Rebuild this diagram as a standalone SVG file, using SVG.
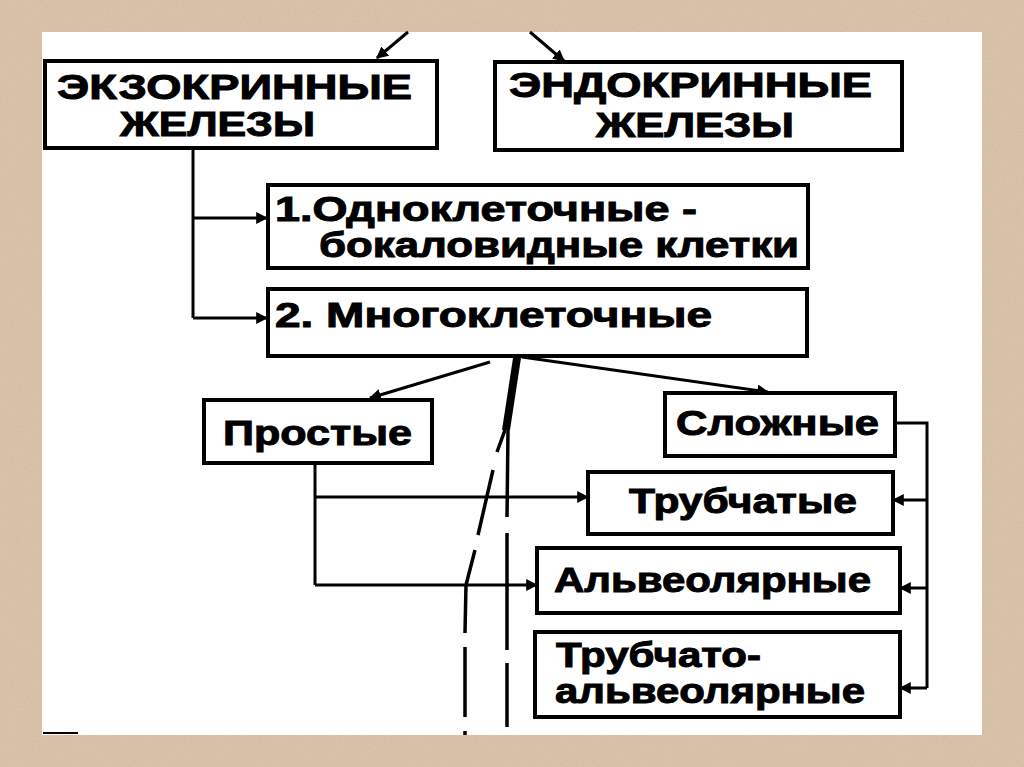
<svg xmlns="http://www.w3.org/2000/svg" width="1024" height="767" viewBox="0 0 1024 767">
<defs>
<style>
.box{fill:#fff;stroke:#000;stroke-width:4}
.t{font-family:"Liberation Sans",Arial,sans-serif;font-weight:bold;font-size:35px;fill:#000;stroke:#000;stroke-width:1}
.c{fill:none;stroke:#000;stroke-width:3}
.d{fill:none;stroke:#000;stroke-width:3.5}
</style>
<marker id="ah" viewBox="0 0 10 10" refX="9" refY="5" markerWidth="12" markerHeight="12" markerUnits="userSpaceOnUse" orient="auto">
<path d="M0,0 L10,5 L0,10 z" fill="#000"/>
</marker>
<filter id="noise" x="0" y="0" width="100%" height="100%">
<feTurbulence type="fractalNoise" baseFrequency="0.9" numOctaves="2" seed="3" result="n"/>
<feColorMatrix in="n" type="matrix" values="0 0 0 0 0.55  0 0 0 0 0.45  0 0 0 0 0.35  0 0 0 1.2 -0.3"/>
<feComposite in2="SourceGraphic" operator="in"/>
</filter>
</defs>
<rect x="0" y="0" width="1024" height="767" fill="#dcc4a9"/>
<rect x="0" y="0" width="1024" height="767" fill="#dcc4a9" filter="url(#noise)" opacity="0.7"/>
<rect x="42" y="32" width="940" height="703" fill="#fff"/>
<line x1="43" y1="733" x2="78" y2="733" stroke="#000" stroke-width="2"/>

<g id="connectors">
<path class="c" d="M408,32 L377,58" marker-end="url(#ah)"/>
<path class="c" d="M530,32 L564,61" marker-end="url(#ah)"/>
<path class="c" d="M193,148 L193,318"/>
<path class="c" d="M193,218 L267,218" marker-end="url(#ah)"/>
<path class="c" d="M193,318 L267,318" marker-end="url(#ah)"/>
<path class="c" d="M490,362 L370,398" marker-end="url(#ah)"/>
<path class="c" d="M522,357 L768,392" marker-end="url(#ah)"/>
<path class="c" d="M315,463 L315,585"/>
<path class="c" d="M315,497 L588,497" marker-end="url(#ah)"/>
<path class="c" d="M315,585 L537,585" marker-end="url(#ah)"/>
<path class="c" d="M895,423 L927,423 L927,688"/>
<path class="c" d="M927,500 L893,500" marker-end="url(#ah)"/>
<path class="c" d="M927,588 L900,588" marker-end="url(#ah)"/>
<path class="c" d="M927,688 L900,688" marker-end="url(#ah)"/>
<path d="M513,358 L521,358 L510,430 L502,430 z" fill="#000"/>
<path class="d" d="M505,430 L497,452 M493,470 L478,535 M475,550 L466,585 L465,633 M465,647 L465,717 M465,731 L465,735"/>
<path class="d" d="M508,430 L507,517 M507,533 L507,650 M507,663 L507,727"/>
</g>

<g id="exo">
<rect class="box" x="45" y="61" width="392" height="87"/>
<text class="t" x="57" y="99" font-size="30" textLength="355" lengthAdjust="spacingAndGlyphs">ЭКЗОКРИННЫЕ</text>
<text class="t" x="120" y="136" font-size="30" textLength="195" lengthAdjust="spacingAndGlyphs">ЖЕЛЕЗЫ</text>
</g>
<g id="endo">
<rect class="box" x="495" y="62" width="407" height="88"/>
<text class="t" x="509" y="97" font-size="33" textLength="363" lengthAdjust="spacingAndGlyphs">ЭНДОКРИННЫЕ</text>
<text class="t" x="596" y="137" font-size="33" textLength="198" lengthAdjust="spacingAndGlyphs">ЖЕЛЕЗЫ</text>
</g>
<g id="uni">
<rect class="box" x="268" y="185" width="540" height="83"/>
<text class="t" x="275" y="221" font-size="29" textLength="422" lengthAdjust="spacingAndGlyphs">1.Одноклеточные -</text>
<text class="t" x="319" y="257" font-size="29" textLength="480" lengthAdjust="spacingAndGlyphs">бокаловидные клетки</text>
</g>
<g id="multi">
<rect class="box" x="268" y="289" width="539" height="67"/>
<text class="t" x="275" y="327" font-size="33" textLength="437" lengthAdjust="spacingAndGlyphs">2. Многоклеточные</text>
</g>
<g id="simple">
<rect class="box" x="204" y="400" width="228" height="63"/>
<text class="t" x="223" y="445" textLength="189" lengthAdjust="spacingAndGlyphs">Простые</text>
</g>
<g id="complex">
<rect class="box" x="665" y="393" width="230" height="63"/>
<text class="t" x="676" y="435" textLength="203" lengthAdjust="spacingAndGlyphs">Сложные</text>
</g>
<g id="tubular">
<rect class="box" x="588" y="472" width="305" height="62"/>
<text class="t" x="629" y="513" textLength="228" lengthAdjust="spacingAndGlyphs">Трубчатые</text>
</g>
<g id="alveolar">
<rect class="box" x="537" y="548" width="363" height="65"/>
<text class="t" x="554" y="592" textLength="317" lengthAdjust="spacingAndGlyphs">Альвеолярные</text>
</g>
<g id="tubuloalveolar">
<rect class="box" x="535" y="632" width="365" height="85"/>
<text class="t" x="556" y="667" font-size="32" textLength="205" lengthAdjust="spacingAndGlyphs">Трубчато-</text>
<text class="t" x="555" y="703" font-size="32" textLength="310" lengthAdjust="spacingAndGlyphs">альвеолярные</text>
</g>
</svg>
